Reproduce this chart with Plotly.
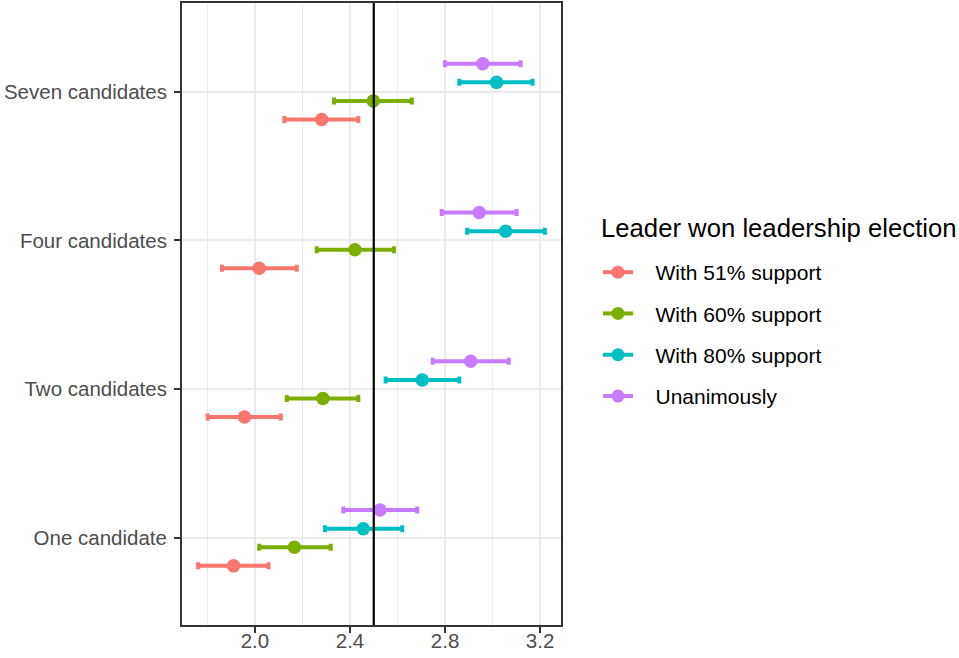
import plotly.graph_objects as go

categories = ["One candidate", "Two candidates", "Four candidates", "Seven candidates"]
series = ["With 51% support", "With 60% support", "With 80% support", "Unanimously"]
legend_title = "Leader won leadership election"
colors = ["#F8766D", "#7CAE00", "#00BFC4", "#C77CFF"]

est_51 = [1.910, 1.956, 2.018, 2.281]
lo_51 = [1.761, 1.801, 1.861, 2.124]
hi_51 = [2.057, 2.109, 2.176, 2.435]

est_60 = [2.166, 2.286, 2.421, 2.498]
lo_60 = [2.018, 2.134, 2.260, 2.333]
hi_60 = [2.319, 2.435, 2.585, 2.660]

est_80 = [2.456, 2.704, 3.055, 3.017]
lo_80 = [2.295, 2.550, 2.893, 2.860]
hi_80 = [2.620, 2.860, 3.220, 3.168]

est_u = [2.526, 2.908, 2.944, 2.959]
lo_u = [2.372, 2.748, 2.786, 2.800]
hi_u = [2.683, 3.068, 3.101, 3.118]

reference_x = 2.5

est = [est_51, est_60, est_80, est_u]
lo = [lo_51, lo_60, lo_80, lo_u]
hi = [hi_51, hi_60, hi_80, hi_u]

dodge = [-0.1875, -0.0625, 0.0625, 0.1875]
base_y = list(range(1, len(categories) + 1))

FONT = "Liberation Sans, Arial, Helvetica, sans-serif"
NB = "\u00a0\u00a0\u00a0"

fig = go.Figure()
for i, name in enumerate(series):
    ys = [b + dodge[i] for b in base_y]
    fig.add_trace(go.Scatter(
        x=est[i], y=ys, mode="markers", name=name, showlegend=False,
        marker=dict(color=colors[i], size=13.5, line=dict(width=0)),
        error_x=dict(type="data", symmetric=False,
                     array=[h - e for h, e in zip(hi[i], est[i])],
                     arrayminus=[e - l for e, l in zip(est[i], lo[i])],
                     color=colors[i], thickness=4, width=3.5),
    ))
for i, name in enumerate(series):
    fig.add_trace(go.Scatter(
        x=[None], y=[None], mode="lines+markers", name=NB + name,
        legendgroup=name,
        line=dict(color=colors[i], width=4),
        marker=dict(color=colors[i], size=13),
    ))

fig.add_shape(type="line", xref="x", yref="paper", x0=reference_x, x1=reference_x,
              y0=0, y1=1, line=dict(color="black", width=2.2))

fig.add_annotation(text=legend_title, xref="paper", yref="paper",
                   x=(599 - 182) / 379, y=(625 - 228) / 622,
                   xanchor="left", yanchor="middle", showarrow=False,
                   font=dict(size=25.7, color="black"))

fig.update_layout(
    width=959, height=658,
    margin=dict(l=182, r=398, t=3, b=33, autoexpand=False),
    paper_bgcolor="white", plot_bgcolor="white",
    font=dict(family=FONT, color="black"),
    showlegend=True,
    legend=dict(
        font=dict(size=21, color="black"),
        x=(598 - 182) / 379, xanchor="left", y=(625 - 252) / 622, yanchor="top",
        itemwidth=30, tracegroupgap=11, bgcolor="rgba(0,0,0,0)",
    ),
    xaxis=dict(
        range=[1.693, 3.288], tick0=2.0, dtick=0.4, tickformat=".1f",
        showgrid=True, gridcolor="#EBEBEB", gridwidth=2,
        minor=dict(dtick=0.2, showgrid=True, gridcolor="#EBEBEB", gridwidth=1),
        zeroline=False, showline=True, mirror=True, linecolor="#333333", linewidth=2,
        ticks="outside", ticklen=6, tickwidth=2, tickcolor="#333333",
        ticklabelstandoff=-10,
        tickfont=dict(size=20.5, color="#4D4D4D"),
    ),
    yaxis=dict(
        range=[0.415, 4.596], tickvals=base_y, ticktext=categories,
        showgrid=True, gridcolor="#EBEBEB", gridwidth=2,
        zeroline=False, showline=True, mirror=True, linecolor="#333333", linewidth=2,
        ticks="outside", ticklen=6, tickwidth=2, tickcolor="#333333",
        ticklabelstandoff=3,
        tickfont=dict(size=20.5, color="#4D4D4D"),
    ),
)

fig.write_html("out.html", config={"displayModeBar": False},
               post_script="document.body.style.margin='0';document.body.style.padding='0';")
